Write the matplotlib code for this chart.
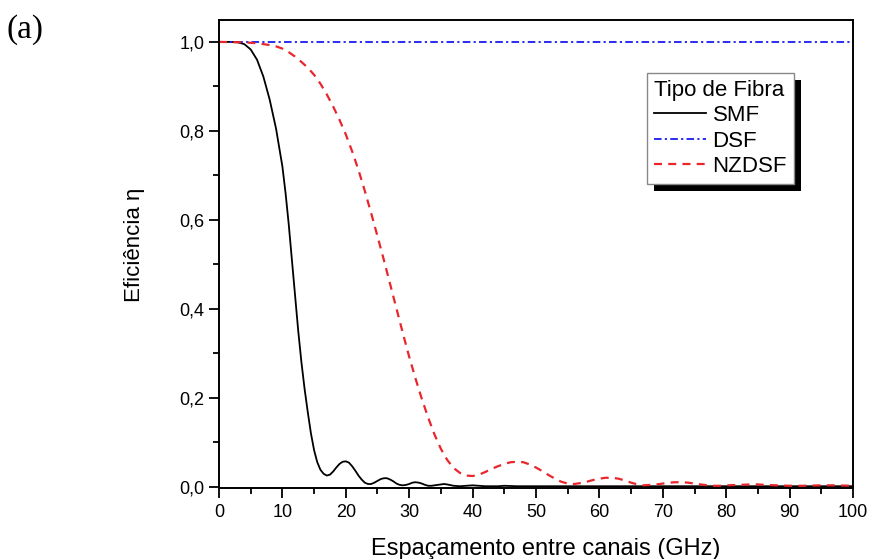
import numpy as np
import matplotlib
matplotlib.use("Agg")
import matplotlib.pyplot as plt
from matplotlib.patches import Rectangle
from matplotlib.ticker import MultipleLocator, FuncFormatter

# values
smf_x = [0, 2, 3, 4, 5, 6, 7, 8, 9, 10, 10.5, 11, 11.5, 12, 12.5, 13, 13.5, 14,
         14.5, 15, 15.5, 16, 16.5, 17, 17.5, 18, 18.5, 19, 19.5, 20, 20.5, 21,
         21.5, 22, 22.5, 23, 23.5, 24, 24.5, 25, 25.5, 26, 26.5, 27, 27.5, 28,
         28.5, 29, 29.5, 30, 30.5, 31, 31.5, 32, 32.5, 33, 33.5, 34, 35, 35.5,
         36, 37, 38, 39, 40, 41, 42, 44, 45, 47, 50, 55, 60, 70, 80, 90, 100]
smf_y = [1.000, 1.000, 0.999, 0.995, 0.983, 0.960, 0.922, 0.870, 0.805, 0.720,
         0.660, 0.590, 0.510, 0.430, 0.350, 0.280, 0.220, 0.168, 0.120, 0.082,
         0.055, 0.038, 0.029, 0.025, 0.027, 0.034, 0.043, 0.051, 0.056, 0.057,
         0.054, 0.046, 0.036, 0.025, 0.016, 0.009, 0.006, 0.006, 0.009, 0.013,
         0.017, 0.019, 0.019, 0.016, 0.012, 0.007, 0.004, 0.003, 0.004, 0.006,
         0.009, 0.010, 0.009, 0.007, 0.004, 0.002, 0.002, 0.003, 0.005, 0.006,
         0.005, 0.002, 0.001, 0.002, 0.003, 0.002, 0.001, 0.001, 0.002, 0.001,
         0.001, 0.001, 0.001, 0.001, 0.001, 0.001, 0.001]

dsf_x = [0, 100]
dsf_y = [1.0, 1.0]

nzdsf_x = [0, 4, 6, 8, 9, 10, 11, 12, 13, 14, 15, 16, 17, 18, 19, 20, 21, 22,
           23, 24, 25, 26, 27, 28, 29, 30, 31, 32, 33, 34, 35, 36, 37, 38, 39,
           40, 41, 42, 43, 44, 45, 46, 47, 48, 49, 50, 51, 52, 53, 54, 55, 56,
           57, 58, 59, 60, 61, 62, 63, 64, 65, 66, 67, 68, 69, 70, 71, 72, 73,
           74, 75, 76, 77, 78, 79, 80, 82, 84, 85, 86, 88, 90, 92, 95, 97, 100]
nzdsf_y = [1.000, 0.999, 0.997, 0.993, 0.990, 0.985, 0.977, 0.967, 0.955,
           0.942, 0.926, 0.906, 0.882, 0.855, 0.825, 0.792, 0.754, 0.712,
           0.665, 0.615, 0.563, 0.510, 0.455, 0.400, 0.345, 0.292, 0.243,
           0.197, 0.155, 0.117, 0.085, 0.060, 0.042, 0.031, 0.025, 0.024,
           0.027, 0.033, 0.040, 0.046, 0.051, 0.055, 0.056, 0.055, 0.050,
           0.043, 0.035, 0.026, 0.018, 0.011, 0.007, 0.006, 0.008, 0.011,
           0.015, 0.018, 0.020, 0.020, 0.018, 0.014, 0.009, 0.005, 0.003,
           0.004, 0.005, 0.007, 0.009, 0.010, 0.010, 0.009, 0.007, 0.005,
           0.003, 0.002, 0.002, 0.003, 0.004, 0.005, 0.005, 0.004, 0.003,
           0.002, 0.002, 0.003, 0.003, 0.002]

plt.rcParams['font.family'] = ['Liberation Sans', 'DejaVu Sans']

fig = plt.figure(figsize=(8.69, 5.59), dpi=100)
ax = fig.add_axes([0.252, 0.127, 0.7296, 0.837])

ax.plot(smf_x, smf_y, color="black", lw=1.3, label="SMF")
ax.plot(dsf_x, dsf_y, color="#1a1aee", lw=1.3, dashes=(4.2, 1.8, 1.2, 1.8), label="DSF")
ax.plot(nzdsf_x, nzdsf_y, color="#e8262c", lw=1.6, dashes=(3.6, 2.8), label="NZDSF")

ax.set_xlim(0, 100)
ax.set_ylim(-0.003, 1.049)
ax.xaxis.set_major_locator(MultipleLocator(10))
ax.xaxis.set_minor_locator(MultipleLocator(5))
ax.yaxis.set_major_locator(MultipleLocator(0.2))
ax.yaxis.set_minor_locator(MultipleLocator(0.1))
ax.yaxis.set_major_formatter(FuncFormatter(lambda v, p: f"{v:.1f}".replace(".", ",")))

ax.tick_params(which="both", direction="out", width=1.3, labelsize=13)
ax.tick_params(which="major", length=7.5)
ax.tick_params(which="minor", length=4.5)
ax.tick_params(axis="x", pad=4)
ax.tick_params(axis="y", pad=3)
ax.tick_params(top=False, right=False)
for s in ax.spines.values():
    s.set_linewidth(1.4)

ax.set_xlabel("Espaçamento entre canais (GHz)", fontsize=17, va="baseline")
ax.xaxis.set_label_coords(0.515, -0.143)
ax.set_ylabel("Eficiência η", fontsize=16)
ax.yaxis.set_label_coords(-0.117, 0.519)

leg = ax.legend(title="Tipo de Fibra", loc="upper left", bbox_to_anchor=(0.675, 0.887),
                borderaxespad=0, fontsize=16, title_fontsize=16, fancybox=False,
                handlelength=2.35, handletextpad=0.3, labelspacing=0.2,
                borderpad=0.3, framealpha=1)
leg._legend_box.align = "left"
leg.get_frame().set_edgecolor("#888888")
leg.get_frame().set_linewidth(1.0)

# black drop shadow under the legend
fig.canvas.draw()
bb = leg.get_window_extent().transformed(ax.transAxes.inverted())
dx, dy = 7 / (ax.bbox.width), 7 / (ax.bbox.height)
ax.add_patch(Rectangle((bb.x0 + dx, bb.y0 - dy), bb.width, bb.height,
                       transform=ax.transAxes, facecolor="black", edgecolor="none",
                       zorder=4.5, clip_on=False))

fig.text(0.008, 0.932, "(a)", fontsize=24, family="Liberation Serif")

fig.savefig("out.png", dpi=100)
